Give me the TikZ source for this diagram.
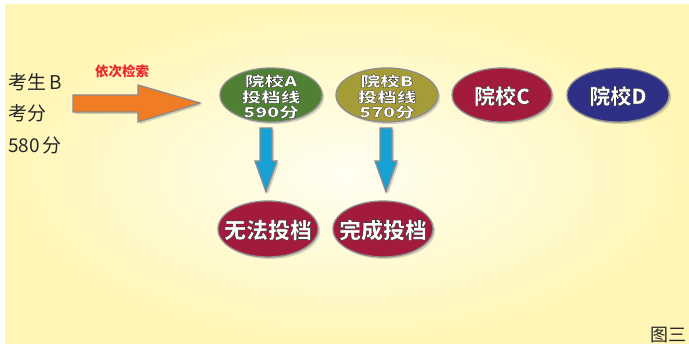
\documentclass[tikz,border=0pt]{standalone}
\usepackage{fontspec}
\setmainfont{Noto Sans CJK SC}
\newfontfamily\tagfont{Noto Sans CJK SC}[BoldFeatures={FakeBold=1.6}]
\usepackage{graphicx}
\usetikzlibrary{shapes.geometric,shadows}
\definecolor{bgin}{RGB}{255,254,242}
\definecolor{bgout}{RGB}{255,246,182}
\definecolor{orangeA}{RGB}{240,125,35}
\definecolor{blueA}{RGB}{22,160,212}
\definecolor{greenA}{RGB}{80,128,52}
\definecolor{oliveA}{RGB}{165,155,55}
\definecolor{crimsonA}{RGB}{162,26,60}
\definecolor{navyA}{RGB}{45,48,132}
\definecolor{rimA}{RGB}{140,140,140}
\definecolor{redT}{RGB}{235,40,45}
\tikzset{
  school/.style={ellipse, draw=rimA, line width=1.3pt, minimum width=102pt, minimum height=54pt, inner sep=0pt,
    drop shadow={opacity=0.35, shadow xshift=2pt, shadow yshift=-2pt}},
  blockarrow/.style={draw=rimA, line width=1.3pt, line join=miter,
    drop shadow={opacity=0.35, shadow xshift=2pt, shadow yshift=-2pt}},
  lefttext/.style={anchor=west, font=\fontsize{19}{19}\selectfont, text=black!85, inner sep=0pt},
  smalltag/.style={font=\fontsize{14}{14}\tagfont\bfseries, inner sep=0pt},
  bigtag/.style={font=\fontsize{21}{21}\tagfont\bfseries, inner sep=0pt},
}
\newcommand{\outl}[1]{\special{pdf:bcolor [1] [0.12]}#1\special{pdf:ecolor}}
\newcommand{\wide}[1]{\scalebox{1.4}[1]{#1}}
\begin{document}
\begin{tikzpicture}[x=1pt,y=-1pt]
\useasboundingbox (0,0) rectangle (689,344);
\shade[inner color=bgin, outer color=bgout] (5,5) rectangle (689,344);
% left texts
\node[lefttext] (t1) at (8,82) {考生\,B};
\node[lefttext] (t2) at (8,113) {考分};
\node[lefttext] (t3) at (8,145) {580\,分};
\node[font=\fontsize{13.5}{13.5}\selectfont\bfseries, text=redT, inner sep=0pt] (lbl) at (122,71) {依次检索};
% orange arrow
\filldraw[blockarrow, fill=orangeA] (73,95) -- (138,95) -- (138,85) -- (200,103) -- (138,122) -- (138,112) -- (73,112) -- cycle;
% schools
\node[school, fill=greenA] (A) at (271,95) {};
\node[school, fill=oliveA] (B) at (387,95) {};
\node[school, fill=crimsonA, minimum width=100pt] (C) at (502,95) {};
\node[school, fill=navyA, minimum width=102pt] (D) at (618,95) {};
\node[smalltag] at (271,81) {\wide{\outl{院校A}}};
\node[smalltag] at (271,97) {\wide{\outl{投档线}}};
\node[smalltag] at (271,112) {\wide{\outl{590分}}};
\node[smalltag] at (387,81) {\wide{\outl{院校B}}};
\node[smalltag] at (387,97) {\wide{\outl{投档线}}};
\node[smalltag] at (387,112) {\wide{\outl{570分}}};
\node[bigtag] at (502,96) {\outl{院校C}};
\node[bigtag] at (618,96) {\outl{院校D}};
% blue arrows
\filldraw[blockarrow, fill=blueA] (260,128) -- (272,128) -- (272,161) -- (277,161) -- (266,192) -- (255,161) -- (260,161) -- cycle;
\filldraw[blockarrow, fill=blueA] (380,128) -- (392,128) -- (392,161) -- (397,161) -- (386,192) -- (375,161) -- (380,161) -- cycle;
% results
\node[school, fill=crimsonA, minimum width=100pt, minimum height=56pt] (R1) at (268,229) {};
\node[school, fill=crimsonA, minimum width=100pt, minimum height=56pt] (R2) at (383,229) {};
\node[bigtag, font=\fontsize{22}{22}\tagfont\bfseries] at (268,230) {\outl{无法投档}};
\node[bigtag, font=\fontsize{22}{22}\tagfont\bfseries] at (383,230) {\outl{完成投档}};
% caption
\node[anchor=base west, font=\fontsize{18}{18}\selectfont, text=black!85, inner sep=0pt] (cap) at (650,342) {图三};
\end{tikzpicture}
\end{document}
